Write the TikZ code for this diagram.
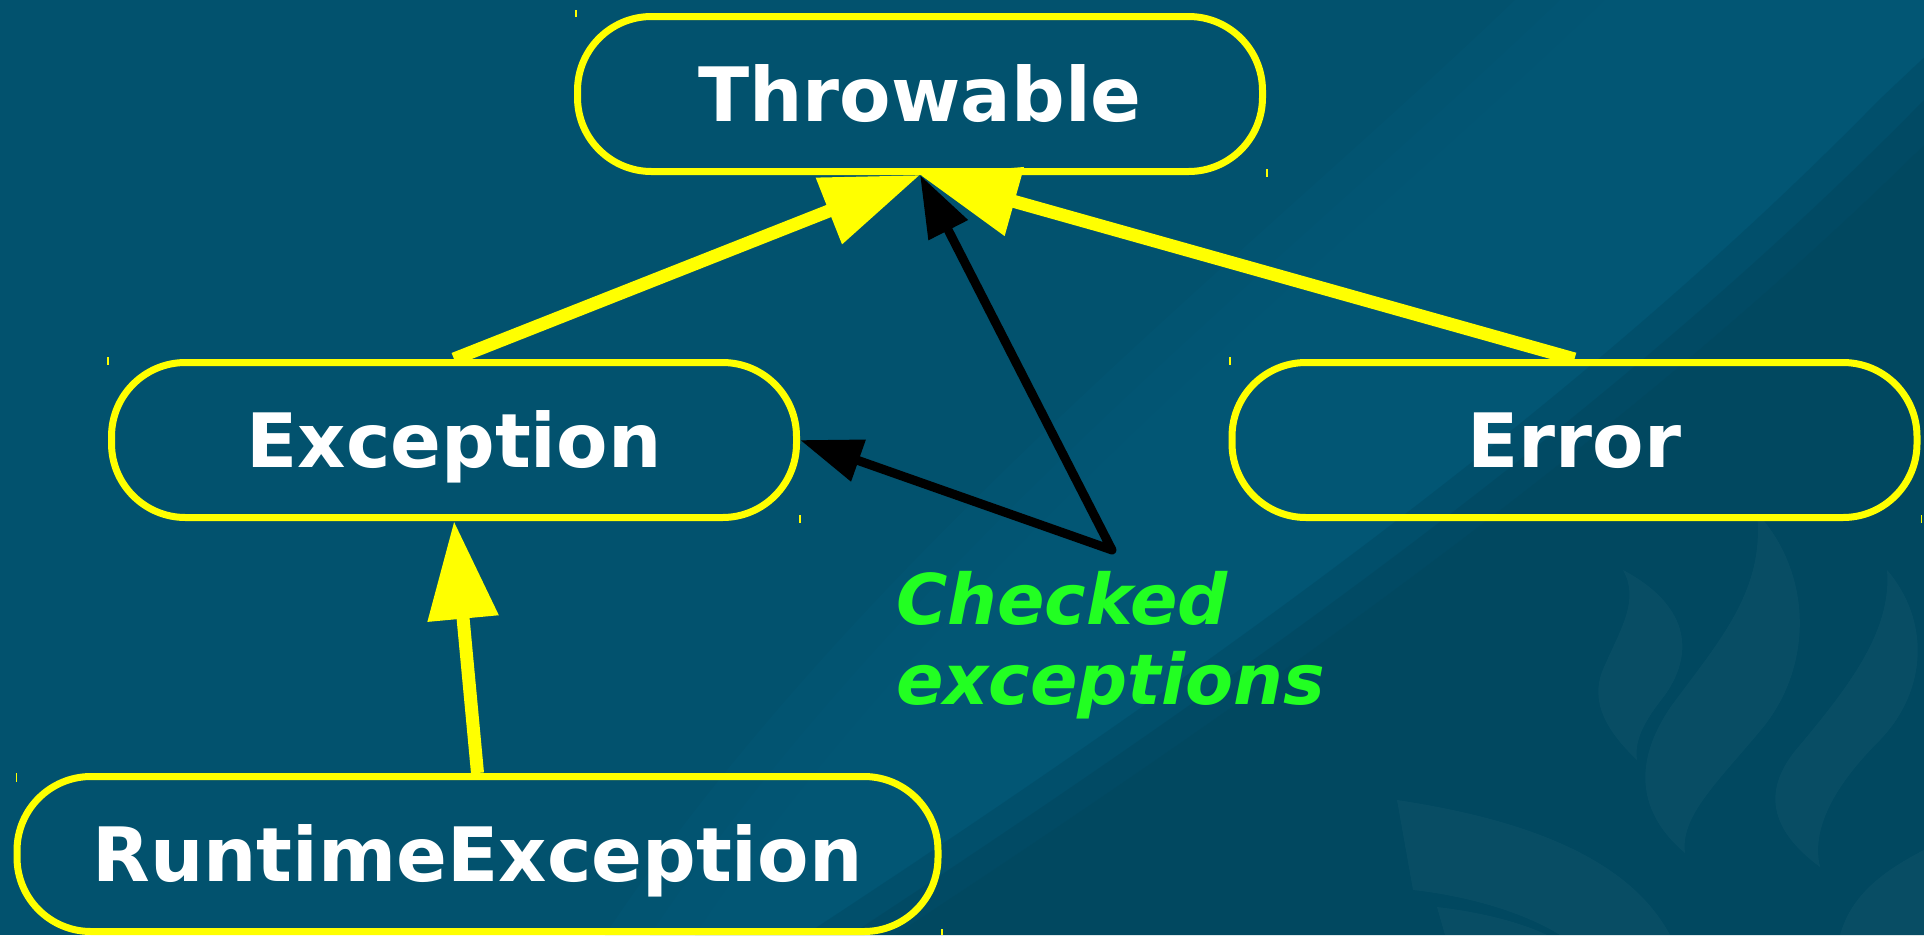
\documentclass[tikz,border=0pt]{standalone}
\usepackage{fontspec}
\setmainfont{DejaVu Sans}
\usetikzlibrary{arrows.meta}
\definecolor{bg}{RGB}{2,82,110}
\definecolor{bandc}{RGB}{4,88,120}
\definecolor{darkc}{RGB}{1,69,92}
\definecolor{ylw}{RGB}{255,255,0}
\definecolor{grn}{RGB}{34,255,34}
\begin{document}
\begin{tikzpicture}[x=1pt,y=-1pt,
  cls/.style={draw=ylw, line width=7pt, rounded corners=74pt, minimum width=685pt,
    minimum height=155pt, inner sep=0pt, text=white,
    font=\fontsize{75}{80}\selectfont\bfseries, text height=54.7pt, text depth=0pt},
  inh/.style={draw=ylw, line width=13pt, -{Triangle[length=98pt,width=68pt]}},
  chkarrow/.style={draw=black, line width=9pt, line join=round,
    {Triangle[length=62pt,width=42pt]}-{Triangle[length=62pt,width=42pt]}},
  tick/.style={draw=ylw, line width=1.5pt},
  flame/.style={fill=white, opacity=0.03}]
\useasboundingbox (0,0) rectangle (1924,935);
% background with soft diagonal band
\fill[bg] (0,0) rectangle (1924,935);
\foreach \k in {-45,0,45} {
  \fill[bandc, opacity=0.34] ({1560-\k},0) -- ({2030+\k},0) -- ({1924+\k},100)
    .. controls ({1650+\k},380) and ({1300+\k},640) .. ({850+\k},935)
    -- ({650-\k},935) .. controls ({900-\k},560) and ({1300-\k},250) .. ({1560-\k},0) -- cycle;
}
\foreach \k in {-45,0,45} {
  \fill[darkc, opacity=0.34] ({2030+\k},0) -- ({1924+\k},100)
    .. controls ({1650+\k},380) and ({1300+\k},640) .. ({850+\k},935)
    -- (2200,935) -- (2200,0) -- cycle;
}
% faint background logo
\fill[flame] (1623,570) .. controls (1680,600) and (1700,645) .. (1665,695)
  .. controls (1645,720) and (1634,740) .. (1637,760)
  .. controls (1600,725) and (1590,695) .. (1605,665)
  .. controls (1620,630) and (1640,600) .. (1623,570) -- cycle;
\fill[flame] (1757,513) .. controls (1810,570) and (1815,660) .. (1765,725)
  .. controls (1720,780) and (1680,815) .. (1685,853)
  .. controls (1640,815) and (1630,765) .. (1672,705)
  .. controls (1720,640) and (1765,590) .. (1757,513) -- cycle;
\fill[flame] (1887,570) .. controls (1930,620) and (1928,690) .. (1880,740)
  .. controls (1840,780) and (1810,825) .. (1820,867)
  .. controls (1770,830) and (1760,790) .. (1800,745)
  .. controls (1850,685) and (1892,630) .. (1887,570) -- cycle;
\fill[flame] (1397,800) .. controls (1530,820) and (1630,860) .. (1670,935)
  -- (1560,935) .. controls (1520,910) and (1460,895) .. (1413,890) -- cycle;
\fill[flame] (1437,907) .. controls (1480,912) and (1520,922) .. (1547,935) -- (1445,935) -- cycle;
\fill[flame] (1840,935) .. controls (1850,900) and (1875,875) .. (1924,850) -- (1924,935) -- cycle;
% class boxes
\node[cls] (thr) at (920,94) {Throwable};
\node[cls] (exc) at (454,440) {Exception};
\node[cls] (err) at (1574.5,440) {Error};
\node[cls, minimum width=921pt] (rte) at (477.5,854) {RuntimeException};
% small corner marks
\draw[tick] (576,10) -- (576,17);
\draw[tick] (1267,169) -- (1267,177);
\draw[tick] (108,357) -- (108,365);
\draw[tick] (800,515) -- (800,523);
\draw[tick] (1230,357) -- (1230,365);
\draw[tick] (1921.5,515) -- (1921.5,523);
\draw[tick] (16.5,773) -- (16.5,782);
\draw[tick] (942,929) -- (942,935);
% inheritance arrows
\draw[inh] (exc.north) -- (thr.south);
\draw[inh] (err.north) -- (thr.south);
\draw[inh] (rte.north) -- (exc.south);
% checked exceptions
\coordinate (jn) at (1112,550);
\draw[chkarrow] (thr.south) -- (jn) -- (exc.east);
\node[anchor=base west, inner sep=0pt, align=left, text=grn,
  font=\fontsize{70}{80}\selectfont\bfseries\itshape] (lbl) at (896,704)
  {Checked\\exceptions};
\end{tikzpicture}
\end{document}
